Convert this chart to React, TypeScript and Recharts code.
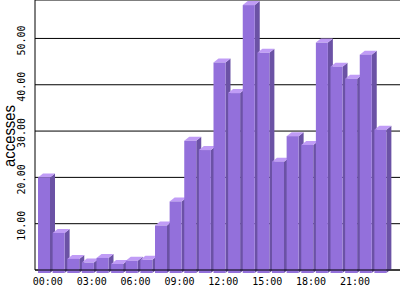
import { BarChart, Bar, XAxis, YAxis, CartesianGrid } from 'recharts';

const hours = [
  '00:00', '01:00', '02:00', '03:00', '04:00', '05:00', '06:00', '07:00',
  '08:00', '09:00', '10:00', '11:00', '12:00', '13:00', '14:00', '15:00',
  '16:00', '17:00', '18:00', '19:00', '20:00', '21:00', '22:00', '23:00',
];
const accesses = [
  20, 8, 2.4, 1.6, 2.6, 1.3, 2.0, 2.2, 9.6, 14.8, 27.9, 25.9,
  44.8, 38.2, 57.2, 46.9, 23.4, 28.9, 27.0, 49.1, 43.9, 41.3, 46.5, 30.3,
];
const yTicks = [10, 20, 30, 40, 50];

const data = hours.map((h, i) => ({ hour: h, accesses: accesses[i] }));

const FRONT = '#9370db';
const SIDE = '#6b52a5';
const TOP = '#c09cf6';
const DEPTH_X = 5;
const DEPTH_Y = 4;
const DROP = 3;

function Bar3D(props: any) {
  const { x, y, width, height } = props;
  if (width == null || height == null) return null;
  const base = y + height;
  return (
    <g>
      <polygon
        points={`${x + width},${y} ${x + width + DEPTH_X},${y - DEPTH_Y} ${x + width + DEPTH_X},${base + DROP - DEPTH_Y} ${x + width},${base + DROP}`}
        fill={SIDE}
      />
      <polygon
        points={`${x},${y} ${x + DEPTH_X},${y - DEPTH_Y} ${x + width + DEPTH_X},${y - DEPTH_Y} ${x + width},${y}`}
        fill={TOP}
      />
      <rect x={x} y={y} width={width} height={height + DROP} fill={FRONT} />
    </g>
  );
}

function XTick(props: any) {
  const { x, payload } = props;
  return (
    <text
      x={x + 3.5}
      y={285}
      textAnchor="middle"
      fontFamily="'DejaVu Sans Mono', monospace"
      fontSize={10}
      fill="#000"
    >
      {payload.value}
    </text>
  );
}

function YTick(props: any) {
  const { y, payload } = props;
  return (
    <text
      x={0}
      y={0}
      transform={`translate(25, ${y + 2}) rotate(-90)`}
      textAnchor="middle"
      fontFamily="'DejaVu Sans Mono', monospace"
      fontSize={10}
      fill="#000"
    >
      {Number(payload.value).toFixed(2)}
    </text>
  );
}

function YTitle() {
  return (
    <text
      x={0}
      y={0}
      transform="translate(15, 136) rotate(-90)"
      textAnchor="middle"
      fontFamily="'Liberation Sans', Arial, sans-serif"
      fontSize={17}
      textLength={62}
      lengthAdjust="spacingAndGlyphs"
      fill="#000"
    >
      accesses
    </text>
  );
}

export default function App() {
  return (
    <div style={{ position: 'absolute', left: 0, top: 0, background: '#fff' }}>
      <BarChart
        width={400}
        height={300}
        data={data}
        margin={{ top: 0, right: 0, left: 0, bottom: 0 }}
        barSize={12}
      >
        <CartesianGrid horizontal vertical={false} stroke="#000" strokeOpacity={1} />
        <XAxis
          dataKey="hour"
          interval={2}
          height={30}
          padding={{ left: 2, right: 12 }}
          axisLine={{ stroke: '#000' }}
          tickLine={false}
          tick={<XTick />}
        />
        <YAxis
          width={35}
          domain={[0, 58.3]}
          ticks={yTicks}
          axisLine={{ stroke: '#000' }}
          tickLine={false}
          tick={<YTick />}
          label={<YTitle />}
        />
        <Bar
          dataKey="accesses"
          shape={<Bar3D />}
          isAnimationActive={false}
        />
      </BarChart>
    </div>
  );
}
